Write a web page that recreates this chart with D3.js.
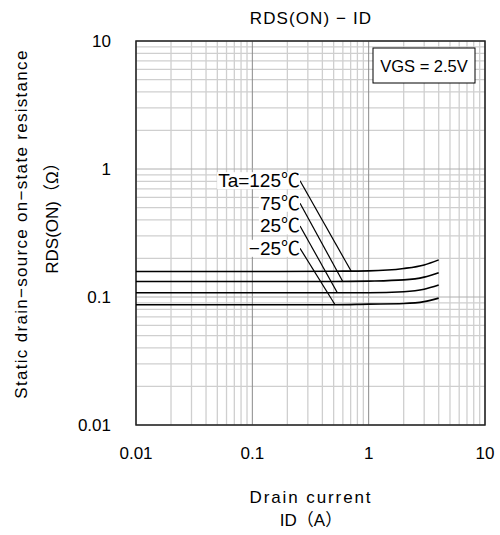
<!DOCTYPE html>
<html>
<head>
<meta charset="utf-8">
<script src="https://cdn.jsdelivr.net/npm/d3@7"></script>
<style>
  body { margin: 0; background: #fff; }
  text { font-family: "Liberation Sans", Arial, "Noto Sans CJK JP", sans-serif; fill: #000; }
</style>
</head>
<body>
<div id="chart"></div>
<script>
// drain current (A) sample points
const currents = [0.01, 0.1, 0.5, 1, 2, 3, 4];
const temps = ["Ta=125℃", "75℃", "25℃", "−25℃"];
const rds125 = [0.158, 0.158, 0.159, 0.160, 0.167, 0.178, 0.195];
const rds75  = [0.132, 0.132, 0.132, 0.133, 0.136, 0.143, 0.155];
const rds25  = [0.108, 0.108, 0.108, 0.108, 0.110, 0.115, 0.124];
const rdsM25 = [0.087, 0.087, 0.087, 0.088, 0.089, 0.092, 0.098];
const series = [rds125, rds75, rds25, rdsM25];
// label anchor (ID, RDS) and leader end on curve (ID)
const labelAt = [[0.257, 0.81], [0.257, 0.54], [0.257, 0.359], [0.257, 0.24]];
const leaderTo = [0.706, 0.599, 0.538, 0.514];
const xTicks = [0.01, 0.1, 1, 10];
const yTicks = [0.01, 0.1, 1, 10];
const xTickLabels = ["0.01", "0.1", "1", "10"];
const yTickLabels = ["0.01", "0.1", "1", "10"];

const width = 500, height = 535;
const margin = {left: 136, right: 15, top: 41, bottom: 110};

const svg = d3.select("#chart").append("svg")
    .attr("width", width)
    .attr("height", height);

const x = d3.scaleLog().domain([0.01, 10]).range([margin.left, width - margin.right]);
const y = d3.scaleLog().domain([0.01, 10]).range([height - margin.bottom, margin.top]);

// minor grid
function minors(lo, hi) {
  let out = [];
  for (let p = Math.log10(lo); p < Math.log10(hi); p++) {
    for (let m = 2; m <= 9; m++) out.push(m * Math.pow(10, p));
  }
  return out;
}

const grid = svg.append("g");
grid.selectAll(".vx").data(minors(0.01, 10)).enter().append("line")
    .attr("x1", d => x(d)).attr("x2", d => x(d))
    .attr("y1", y(0.01)).attr("y2", y(10))
    .attr("stroke", "#cfcfcf").attr("stroke-width", 1.3);
grid.selectAll(".hy").data(minors(0.01, 10)).enter().append("line")
    .attr("y1", d => y(d)).attr("y2", d => y(d))
    .attr("x1", x(0.01)).attr("x2", x(10))
    .attr("stroke", "#cfcfcf").attr("stroke-width", 1.3);
grid.selectAll(".mx").data(xTicks).enter().append("line")
    .attr("x1", d => x(d)).attr("x2", d => x(d))
    .attr("y1", y(0.01)).attr("y2", y(10))
    .attr("stroke", "#8a8a8a").attr("stroke-width", 1);
grid.selectAll(".my").data(yTicks).enter().append("line")
    .attr("y1", d => y(d)).attr("y2", d => y(d))
    .attr("x1", x(0.01)).attr("x2", x(10))
    .attr("stroke", "#b0b0b0").attr("stroke-width", 1);

// frame
svg.append("rect")
    .attr("x", x(0.01)).attr("y", y(10))
    .attr("width", x(10) - x(0.01)).attr("height", y(0.01) - y(10))
    .attr("fill", "none").attr("stroke", "#222").attr("stroke-width", 1.5);

// curves
const line = d3.line()
    .x((d, i) => x(currents[i]))
    .y(d => y(d))
    .curve(d3.curveMonotoneX);

svg.selectAll(".curve").data(series).enter().append("path")
    .attr("d", line)
    .attr("fill", "none")
    .attr("stroke", "#000")
    .attr("stroke-width", 1.6);

// value on a curve at given current (log interpolation)
function valueAt(s, c) {
  for (let i = 0; i < currents.length - 1; i++) {
    if (c >= currents[i] && c <= currents[i + 1]) {
      let t = (Math.log10(c) - Math.log10(currents[i])) / (Math.log10(currents[i + 1]) - Math.log10(currents[i]));
      return Math.pow(10, Math.log10(s[i]) + t * (Math.log10(s[i + 1]) - Math.log10(s[i])));
    }
  }
  return s[s.length - 1];
}

// leaders
svg.selectAll(".leader").data(temps).enter().append("line")
    .attr("x1", (d, i) => x(labelAt[i][0]))
    .attr("y1", (d, i) => y(labelAt[i][1]))
    .attr("x2", (d, i) => x(leaderTo[i]))
    .attr("y2", (d, i) => y(valueAt(series[i], leaderTo[i])))
    .attr("stroke", "#000").attr("stroke-width", 1.2);

// labels with white backing
const lab = svg.append("g");
temps.forEach((t, i) => {
  let g = lab.append("g");
  let txt = g.append("text")
      .attr("x", x(labelAt[i][0]))
      .attr("y", y(labelAt[i][1]) + 6.5)
      .attr("text-anchor", "end")
      .style("font-size", "19px")
      .text(t);
  let bb = txt.node().getBBox();
  g.insert("rect", "text")
      .attr("x", bb.x - 1).attr("y", bb.y + 2)
      .attr("width", bb.width + 1).attr("height", bb.height - 4)
      .attr("fill", "#fff");
});

// tick labels
svg.selectAll(".xt").data(xTicks).enter().append("text")
    .attr("x", d => x(d))
    .attr("y", 459)
    .attr("text-anchor", "middle")
    .style("font-size", "17px")
    .text((d, i) => xTickLabels[i]);

svg.selectAll(".yt").data(yTicks).enter().append("text")
    .attr("x", 111)
    .attr("y", d => y(d))
    .attr("text-anchor", "end")
    .attr("dominant-baseline", "central")
    .style("font-size", "17px")
    .text((d, i) => yTickLabels[i]);

// title
svg.append("text")
    .attr("x", 311).attr("y", 24)
    .attr("text-anchor", "middle")
    .style("font-size", "17px")
    .style("letter-spacing", "1.1px")
    .text("RDS(ON) − ID");

// axis titles
svg.append("text")
    .attr("x", 311).attr("y", 503)
    .attr("text-anchor", "middle")
    .style("font-size", "17px")
    .style("letter-spacing", "1.9px")
    .text("Drain current");
svg.append("text")
    .attr("x", 311).attr("y", 526)
    .attr("text-anchor", "middle")
    .style("font-size", "17px")
    .text("ID（A）");

svg.append("text")
    .attr("transform", "translate(21,224) rotate(-90)")
    .attr("text-anchor", "middle")
    .attr("dominant-baseline", "central")
    .style("font-size", "17px")
    .style("letter-spacing", "1.3px")
    .text("Static drain−source on−state resistance");
svg.append("text")
    .attr("transform", "translate(52,214) rotate(-90)")
    .attr("text-anchor", "middle")
    .attr("dominant-baseline", "central")
    .style("font-size", "17px")
    .text("RDS(ON)（Ω）");

// condition box
svg.append("rect")
    .attr("x", 373).attr("y", 48)
    .attr("width", 102).attr("height", 35)
    .attr("fill", "#fff").attr("stroke", "#000").attr("stroke-width", 1);
svg.append("text")
    .attr("x", 424).attr("y", 66)
    .attr("text-anchor", "middle")
    .attr("dominant-baseline", "central")
    .style("font-size", "16.5px")
    .text("VGS = 2.5V");
</script>
</body>
</html>
